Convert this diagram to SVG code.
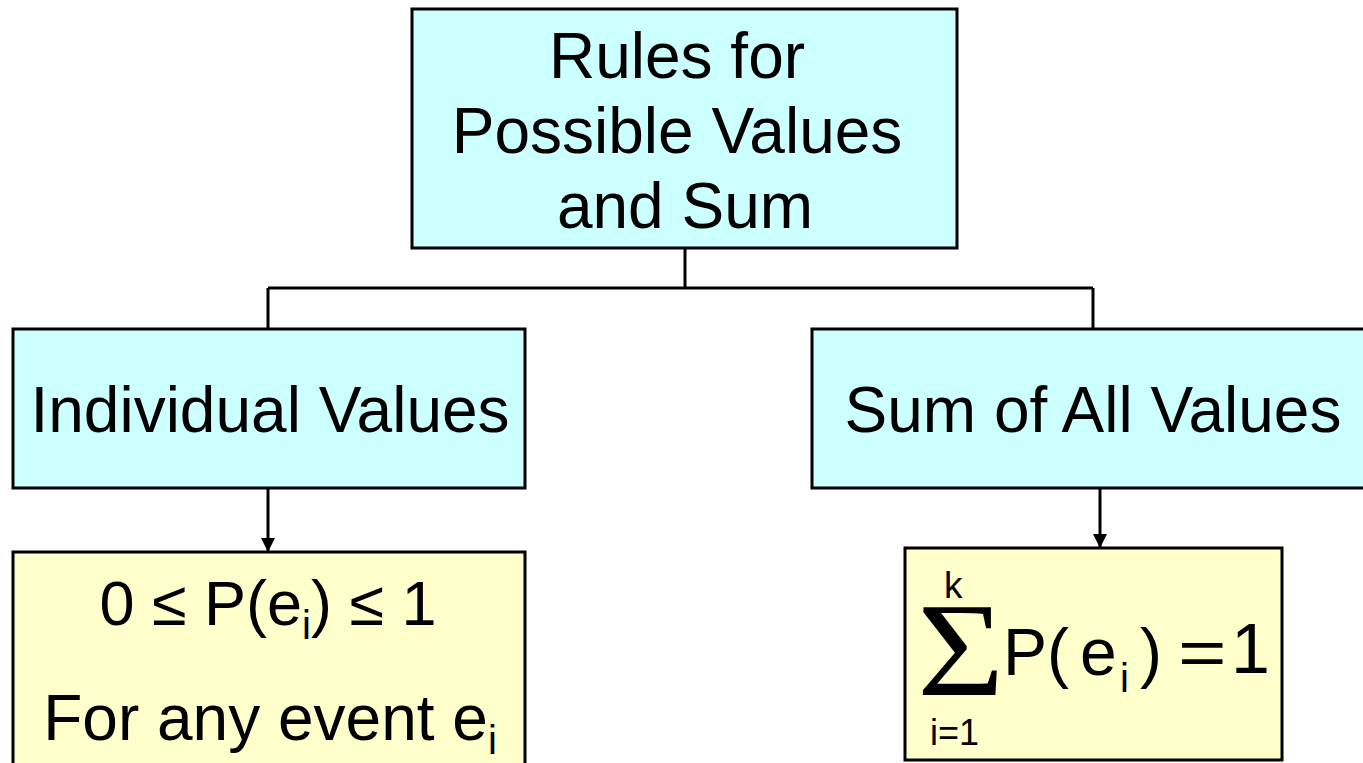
<svg xmlns="http://www.w3.org/2000/svg" width="1363" height="763" viewBox="0 0 1363 763">
<style>
.box{stroke:#000;stroke-width:3}
.c{fill:#CCFFFF}
.y{fill:#FFFFCC}
.t{font-family:"Liberation Sans",Arial,sans-serif;font-size:64px;fill:#000}
.m{text-anchor:middle}
.sub{font-size:40px}
.ln{stroke:#000;stroke-width:3;fill:none}
</style>
<defs>
<marker id="ah" markerWidth="14" markerHeight="14" refX="14" refY="7" orient="auto" markerUnits="userSpaceOnUse">
<path d="M0,0 L14,7 L0,14 Z" fill="#000"/>
</marker>
</defs>
<rect width="1363" height="763" fill="#fff"/>
<g id="connectors">
<path class="ln" d="M685,248 V288 M268,288 H1093 M268,288 V329 M1093,288 V329"/>
<line class="ln" x1="268" y1="488" x2="268" y2="552" marker-end="url(#ah)"/>
<line class="ln" x1="1100" y1="488" x2="1100" y2="548" marker-end="url(#ah)"/>
</g>
<g id="root">
<rect class="box c" x="412" y="9" width="545" height="239"/>
<text class="t m" x="677" y="78">Rules for</text>
<text class="t m" x="677" y="153">Possible Values</text>
<text class="t m" x="685" y="228">and Sum</text>
</g>
<g id="individual">
<rect class="box c" x="13" y="329" width="512" height="159"/>
<text class="t m" x="270" y="432">Individual Values</text>
</g>
<g id="sum">
<rect class="box c" x="812" y="329" width="560" height="159"/>
<text class="t m" x="1093" y="432">Sum of All Values</text>
</g>
<g id="individual-rule">
<rect class="box y" x="13" y="552" width="512" height="220"/>
<text class="t m" x="268" y="625" style="font-size:63px">0 ≤ P(e<tspan class="sub" dy="14">i</tspan><tspan dy="-14">) ≤ 1</tspan></text>
<text class="t m" x="270" y="740">For any event e<tspan class="sub" dy="14">i</tspan></text>
</g>
<g id="sum-rule">
<rect class="box y" x="905" y="548" width="377" height="212"/>
<text x="917" y="695" transform="translate(917 695) scale(1.12 1) translate(-917 -695)" style="font-family:'Liberation Serif','Times New Roman',serif;font-size:134px">Σ</text>
<text class="t" x="944" y="598" style="font-size:37px">k</text>
<text class="t" x="930" y="745" style="font-size:36px">i=1</text>
<text class="t" x="1003" y="675" style="font-size:66px">P</text>
<text class="t" x="1047" y="675" style="font-size:66px">(</text>
<text class="t" x="1080" y="675" style="font-size:66px">e</text>
<text class="t sub" x="1120" y="692">i</text>
<text class="t" x="1140" y="675" style="font-size:66px">)</text>
<text class="t" x="1178" y="675" transform="translate(1178 675) scale(1.3 1) translate(-1178 -675)">=</text>
<text class="t" x="1231" y="673" style="font-size:70px">1</text>
</g>
</svg>
